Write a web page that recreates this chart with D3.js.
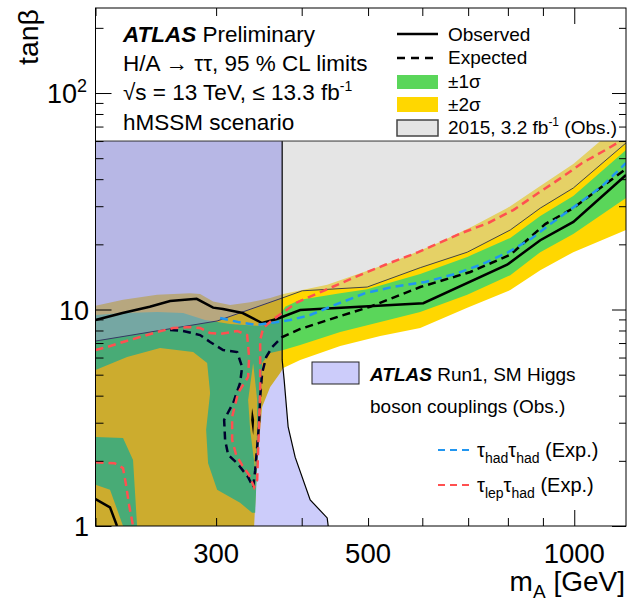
<!DOCTYPE html>
<html>
<head>
<meta charset="utf-8">
<script src="https://cdn.jsdelivr.net/npm/d3@7"></script>
<style>
body { margin: 0; background: #fff; }
text { font-family: "Liberation Sans", Arial, sans-serif; fill: #000; }
</style>
</head>
<body>
<script>
// ---- data (mA in GeV, tan beta) ----
// observed limit
var obsMass = [200, 219, 240, 257, 281, 297, 307, 328, 350, 368, 398, 602, 798, 892, 997, 1190];
var obsTan  = [8.94, 9.63, 10.3, 10.95, 11.2, 10.2, 10.05, 9.63, 8.66, 9.04, 9.95, 10.7, 16.1, 20.9, 25.4, 41.8];
var obsLowMass = [200, 210, 215];
var obsLowTan  = [1.33, 1.22, 1.0];
var obsIslandMass = [338.6, 340.9, 339.8, 337.5];
var obsIslandTan  = [3.51, 3.09, 2.63, 3.09];

// expected limit
var expMass = [257, 268.5, 284.3, 294, 307.1, 322, 327.4, 325.2, 317.7, 308.2, 309.2, 312.4, 322, 334.1, 339.8,
               342.1, 344.4, 346.7, 347.9, 350.2, 355, 362.2, 374.6, 398, 455.3, 503.6, 595.8, 705, 806.5, 907, 996.7, 1190];
var expTan  = [8.04, 7.96, 7.62, 7.08, 6.5, 6.36, 5.43, 4.58, 3.7, 3.09, 2.5, 2.13, 1.95, 1.68, 1.51,
               1.81, 2.32, 2.99, 3.94, 5.09, 6.03, 6.71, 7.46, 8.13, 9.33, 10.3, 12.7, 14.9, 17.9, 24.8, 29.4, 44.6];

// tau_lep tau_had expected
var lepMass = [200, 207.9, 219.4, 232.3, 246, 259.6, 274.9, 284.3, 294, 304.1, 322, 333, 335.2, 334.1, 323, 316.6,
               316.6, 320.9, 327.4, 335.2, 340.9, 344.4, 345.5, 346.7, 347.9, 347.9, 347.9, 351.4, 362.2, 374.6, 394,
               475.6, 529.7, 591.8, 686.2, 749, 814.7, 886, 960.5, 1027, 1110, 1168];
var lepTan  = [6.5, 6.71, 7.08, 7.46, 7.87, 8.21, 8.3, 8.21, 7.79, 7.71, 7.96, 7.62, 6.03, 4.88, 4.12, 3.19,
               2.5, 2.13, 1.91, 1.72, 1.51, 1.63, 2.24, 3.09, 4.25, 5.85, 7.23, 8.21, 8.94, 9.63, 10.8,
               14.0, 16.1, 18.4, 22.6, 25.1, 28.8, 34.5, 40.9, 47.5, 54.5, 60];
var lepLowMass = [200, 213.2, 219.4, 221.6, 223.9, 226.9];
var lepLowTan  = [1.97, 1.95, 1.85, 1.55, 1.25, 1.0];

// tau_had tau_had expected
var hadMass = [304.1, 323, 343.2, 359.8, 384.8, 411.6, 440.2, 495.2, 542.3, 605.9, 670.3, 734, 801.1, 868.3, 922.5, 993.4, 1099, 1190];
var hadTan  = [9.14, 8.75, 8.48, 8.66, 8.94, 9.43, 10.3, 11.9, 12.7, 13.4, 14.6, 16.2, 18.4, 21.4, 24.8, 29.4, 37.2, 47.5];

// +-2 sigma band: upper edge (left to right), lower edge (right to left)
var band2UpMass = [200, 219.4, 246, 274.9, 284.3, 297, 314.5, 336.4, 359.8, 375.9, 435.8, 544.1, 637.3, 712.1, 798.4, 892, 996.7, 1091.5, 1190];
var band2UpTan  = [10.4, 11.1, 11.7, 11.9, 11.8, 10.9, 10.5, 10.8, 11.3, 11.8, 13.0, 16.6, 20.5, 24.3, 29.4, 37.2, 47.0, 60, 60];
var band2DnMass = [1190, 996.7, 892, 806.5, 697.9, 595.8, 520.9, 455.3, 398, 375.9, 372.1, 359.8, 350.2, 344.4, 340.9, 200];
var band2DnTan  = [23.3, 18.4, 15.2, 12.3, 10.2, 8.21, 7.54, 6.78, 5.85, 5.37, 5.09, 4.39, 3.55, 1.95, 1.0, 1.0];

// +-1 sigma band
var band1UpMass = [200, 219.4, 246, 268.5, 289.1, 314.5, 347.9, 365.9, 378.4, 398, 455.3, 498.6, 595.8, 697.9, 806.5, 892, 996.7, 1190];
var band1UpTan  = [9.43, 9.63, 9.74, 9.63, 8.94, 8.57, 8.39, 8.75, 10.3, 11.1, 11.9, 12.4, 14.6, 17.5, 21.4, 27.0, 33.4, 54.5];
var band1DnMass = [1190, 996.7, 892, 806.5, 697.9, 595.8, 520.9, 455.3, 398, 375.9, 359.8, 350.2, 347.9, 344.4, 342.1,
                   338.6, 325.2, 301, 292, 290.1, 294, 291.1, 277.7, 248.5, 222.4, 200];
var band1DnTan  = [32.7, 22.3, 18.4, 14.4, 11.7, 9.74, 8.75, 7.87, 6.86, 6.5, 6.3, 5.66, 3.33, 1.95, 1.15,
                   1.15, 1.28, 1.47, 1.95, 2.78, 4.12, 5.66, 6.36, 6.64, 6.03, 5.26];
var band1LowMass = [200, 219.4, 226.9, 230, 219.4, 210, 200];
var band1LowTan  = [2.58, 2.55, 2.02, 1.0, 1.0, 1.47, 1.55];
var band2LensMass = [339.8, 334.1, 336.4, 342.1, 344.4, 344.4];
var band2LensTan  = [5.66, 3.82, 2.78, 1.81, 2.78, 3.82];

// 2015, 3.2 fb-1 observed
var obs15Mass = [200, 301, 374.6, 400.7, 498.6, 595.8, 697.9, 806.5, 892, 996.7, 1190];
var obs15Tan  = [7.15, 8.85, 11.3, 12.2, 12.7, 15.6, 18.4, 23.3, 29.4, 36.4, 58.8];

// Run1 SM Higgs couplings, right edge (top to bottom)
var run1Mass = [374.6, 374.6, 377.1, 382.2, 391.3, 411.6, 435.8, 437.3];
var run1Tan  = [60, 5.85, 4.73, 2.87, 2.08, 1.32, 1.09, 1.0];

var tanMax = 60;
var xMinorTicks = [200, 300, 400, 500, 600, 700, 800, 900];
var xMajorTicks = [1000];
var xLabels = [300, 500, 1000];
var yMinorTicks = [2, 3, 4, 5, 6, 7, 8, 9, 20, 30, 40, 50, 60, 70, 80, 90, 200];
var yMajorTicks = [1, 10, 100];

// ---- layout ----
var w = 628, h = 604;
var pLeft = 95.5, pRight = 626, pTop = 8, pBottom = 526;

var svg = d3.select("body").append("svg")
  .attr("width", w).attr("height", h);

var x = d3.scaleLog().domain([200, 1190]).range([pLeft, pRight]);
var y = d3.scaleLog().domain([1, 247]).range([pBottom, pTop]);

function zip(a, b) { return a.map(function(v, i) { return [v, b[i]]; }); }
var line = d3.line().x(function(d) { return x(d[0]); }).y(function(d) { return y(d[1]); });
function poly(pts) { return line(pts) + "Z"; }

svg.append("clipPath").attr("id", "plot")
  .append("rect").attr("x", pLeft).attr("y", pTop).attr("width", pRight - pLeft).attr("height", pBottom - pTop);

var g = svg.append("g").attr("clip-path", "url(#plot)");

var yellow = "#ffd700", green = "#5ad65a";

// bands
g.append("path")
  .attr("d", poly(zip(band2UpMass, band2UpTan).concat(zip(band2DnMass, band2DnTan))))
  .attr("fill", yellow);
g.append("path")
  .attr("d", poly(zip(band1UpMass, band1UpTan).concat(zip(band1DnMass, band1DnTan))))
  .attr("fill", green);
g.append("path").attr("d", poly(zip(band1LowMass, band1LowTan))).attr("fill", green);
g.append("path").attr("d", poly(zip(band2LensMass, band2LensTan))).attr("fill", yellow);

// expected
g.append("path").attr("d", line(zip(expMass, expTan)))
  .attr("fill", "none").attr("stroke", "#000").attr("stroke-width", 2.5)
  .attr("stroke-dasharray", "8,5");

// 2015 observed region
var obs15 = zip(obs15Mass, obs15Tan);
g.append("path")
  .attr("d", poly(obs15.concat([[1190, tanMax], [200, tanMax]])))
  .attr("fill", "#cbcbcb").attr("fill-opacity", 0.5);
g.append("path").attr("d", line(obs15))
  .attr("fill", "none").attr("stroke", "#444").attr("stroke-width", 1);

// Run1 couplings region
var run1 = zip(run1Mass, run1Tan);
g.append("path")
  .attr("d", poly([[200, tanMax]].concat(run1).concat([[200, 1]])))
  .attr("fill", "rgb(0,0,230)").attr("fill-opacity", 0.2);
g.append("path").attr("d", line(run1))
  .attr("fill", "none").attr("stroke", "#000").attr("stroke-width", 1.2);

// top edge of the data region
svg.append("line")
  .attr("x1", pLeft).attr("x2", pRight).attr("y1", y(tanMax)).attr("y2", y(tanMax))
  .attr("stroke", "#333").attr("stroke-width", 1);

// observed
g.append("path").attr("d", line(zip(obsMass, obsTan)))
  .attr("fill", "none").attr("stroke", "#000").attr("stroke-width", 2.5);
g.append("path").attr("d", line(zip(obsLowMass, obsLowTan)))
  .attr("fill", "none").attr("stroke", "#000").attr("stroke-width", 2.5);
g.append("path").attr("d", poly(zip(obsIslandMass, obsIslandTan))).attr("fill", "#000");

// channel expected
g.append("path").attr("d", line(zip(lepMass, lepTan)))
  .attr("fill", "none").attr("stroke", "#ff5050").attr("stroke-width", 2.5)
  .attr("stroke-dasharray", "8,5");
g.append("path").attr("d", line(zip(lepLowMass, lepLowTan)))
  .attr("fill", "none").attr("stroke", "#ff5050").attr("stroke-width", 2.5)
  .attr("stroke-dasharray", "8,5");
g.append("path").attr("d", line(zip(hadMass, hadTan)))
  .attr("fill", "none").attr("stroke", "#2196f0").attr("stroke-width", 2.5)
  .attr("stroke-dasharray", "8,5");

// ---- frame and ticks ----
svg.append("rect")
  .attr("x", pLeft).attr("y", pTop).attr("width", pRight - pLeft).attr("height", pBottom - pTop)
  .attr("fill", "none").attr("stroke", "#000").attr("stroke-width", 1);

function ticks(axis, transform) {
  var a = svg.append("g").attr("transform", transform).call(axis);
  a.select(".domain").remove();
  a.selectAll("line").attr("stroke", "#000");
}
ticks(d3.axisBottom(x).tickValues(xMinorTicks).tickSize(-8).tickFormat(""), "translate(0," + pBottom + ")");
ticks(d3.axisBottom(x).tickValues(xMajorTicks).tickSize(-16).tickFormat(""), "translate(0," + pBottom + ")");
ticks(d3.axisTop(x).tickValues(xMinorTicks).tickSize(-8).tickFormat(""), "translate(0," + pTop + ")");
ticks(d3.axisTop(x).tickValues(xMajorTicks).tickSize(-16).tickFormat(""), "translate(0," + pTop + ")");
ticks(d3.axisLeft(y).tickValues(yMinorTicks).tickSize(-8).tickFormat(""), "translate(" + pLeft + ",0)");
ticks(d3.axisLeft(y).tickValues(yMajorTicks).tickSize(-16).tickFormat(""), "translate(" + pLeft + ",0)");
ticks(d3.axisRight(y).tickValues(yMinorTicks).tickSize(-7).tickFormat(""), "translate(" + pRight + ",0)");
ticks(d3.axisRight(y).tickValues(yMajorTicks).tickSize(-14).tickFormat(""), "translate(" + pRight + ",0)");

// tick labels
svg.selectAll(".xl").data(xLabels).enter().append("text")
  .attr("x", function(d) { return x(d); }).attr("y", 563)
  .attr("text-anchor", "middle").attr("font-size", 27.5)
  .text(function(d) { return d; });
svg.append("text").attr("x", 89).attr("y", y(1) + 10).attr("text-anchor", "end")
  .attr("font-size", 27).text("1");
svg.append("text").attr("x", 89).attr("y", y(10) + 10).attr("text-anchor", "end")
  .attr("font-size", 27).text("10");
var t100 = svg.append("text").attr("x", 87).attr("y", y(100) + 10).attr("text-anchor", "end")
  .attr("font-size", 27);
t100.append("tspan").text("10");
t100.append("tspan").attr("font-size", 18).attr("dy", -11).text("2");

// axis titles
svg.append("text").attr("transform", "translate(38,9) rotate(-90)")
  .attr("text-anchor", "end").attr("font-size", 28.5).text("tanβ");
var xt = svg.append("text").attr("x", 625).attr("y", 591).attr("text-anchor", "end").attr("font-size", 28);
xt.append("tspan").text("m");
xt.append("tspan").attr("font-size", 19).attr("dy", 7).text("A");
xt.append("tspan").attr("dy", -7).text(" [GeV]");

// ---- legend / labels ----
var l1 = svg.append("text").attr("x", 123).attr("y", 42).attr("font-size", 22.5);
l1.append("tspan").attr("font-weight", "bold").attr("font-style", "italic").text("ATLAS");
l1.append("tspan").text(" Preliminary");
svg.append("text").attr("x", 123).attr("y", 71).attr("font-size", 22.5).text("H/A \u2192 \u03c4\u03c4, 95 % CL limits");
var l3 = svg.append("text").attr("x", 123).attr("y", 100).attr("font-size", 22.5);
l3.append("tspan").text("\u221as = 13 TeV, \u2264 13.3 fb");
l3.append("tspan").attr("font-size", 14).attr("dy", -9).text("-1");
svg.append("text").attr("x", 123).attr("y", 130).attr("font-size", 22.5).text("hMSSM scenario");

svg.append("line").attr("x1", 397).attr("x2", 438).attr("y1", 34).attr("y2", 34)
  .attr("stroke", "#000").attr("stroke-width", 2.5);
svg.append("line").attr("x1", 397).attr("x2", 438).attr("y1", 58).attr("y2", 58)
  .attr("stroke", "#000").attr("stroke-width", 2.5).attr("stroke-dasharray", "8,6");
svg.append("rect").attr("x", 397).attr("y", 75).attr("width", 41).attr("height", 14).attr("fill", green);
svg.append("rect").attr("x", 397).attr("y", 97).attr("width", 41).attr("height", 15).attr("fill", yellow);
svg.append("rect").attr("x", 397).attr("y", 120).attr("width", 41).attr("height", 16)
  .attr("fill", "#e5e5e5").attr("stroke", "#444").attr("stroke-width", 1.5);

svg.append("text").attr("x", 448).attr("y", 41).attr("font-size", 19).text("Observed");
svg.append("text").attr("x", 448).attr("y", 64).attr("font-size", 19).text("Expected");
svg.append("text").attr("x", 448).attr("y", 88).attr("font-size", 19).text("\u00b11\u03c3");
svg.append("text").attr("x", 448).attr("y", 111).attr("font-size", 19).text("\u00b12\u03c3");
var l15 = svg.append("text").attr("x", 448).attr("y", 134).attr("font-size", 19);
l15.append("tspan").text("2015, 3.2 fb");
l15.append("tspan").attr("font-size", 12).attr("dy", -8).text("-1");
l15.append("tspan").attr("dy", 8).text(" (Obs.)");

// Run1 legend
svg.append("rect").attr("x", 312).attr("y", 362).attr("width", 47).attr("height", 22)
  .attr("fill", "#ccccfa").attr("stroke", "#222").attr("stroke-width", 1);
var r1 = svg.append("text").attr("x", 370).attr("y", 381).attr("font-size", 19);
r1.append("tspan").attr("font-weight", "bold").attr("font-style", "italic").text("ATLAS");
r1.append("tspan").text(" Run1, SM Higgs");
svg.append("text").attr("x", 370).attr("y", 413).attr("font-size", 19).text("boson couplings (Obs.)");

// channel legend
svg.append("line").attr("x1", 438).attr("x2", 473).attr("y1", 450).attr("y2", 450)
  .attr("stroke", "#2196f0").attr("stroke-width", 2).attr("stroke-dasharray", "7,5");
svg.append("line").attr("x1", 438).attr("x2", 473).attr("y1", 485).attr("y2", 485)
  .attr("stroke", "#ff5050").attr("stroke-width", 2).attr("stroke-dasharray", "7,5");
function tauLabel(yPos, sub1) {
  var t = svg.append("text").attr("x", 477).attr("y", yPos).attr("font-size", 20);
  t.append("tspan").text("\u03c4");
  t.append("tspan").attr("font-size", 14).attr("dy", 6).text(sub1);
  t.append("tspan").attr("dy", -6).text("\u03c4");
  t.append("tspan").attr("font-size", 14).attr("dy", 6).text("had");
  t.append("tspan").attr("dy", -6).text(" (Exp.)");
}
tauLabel(457, "had");
tauLabel(492, "lep");
</script>
</body>
</html>
